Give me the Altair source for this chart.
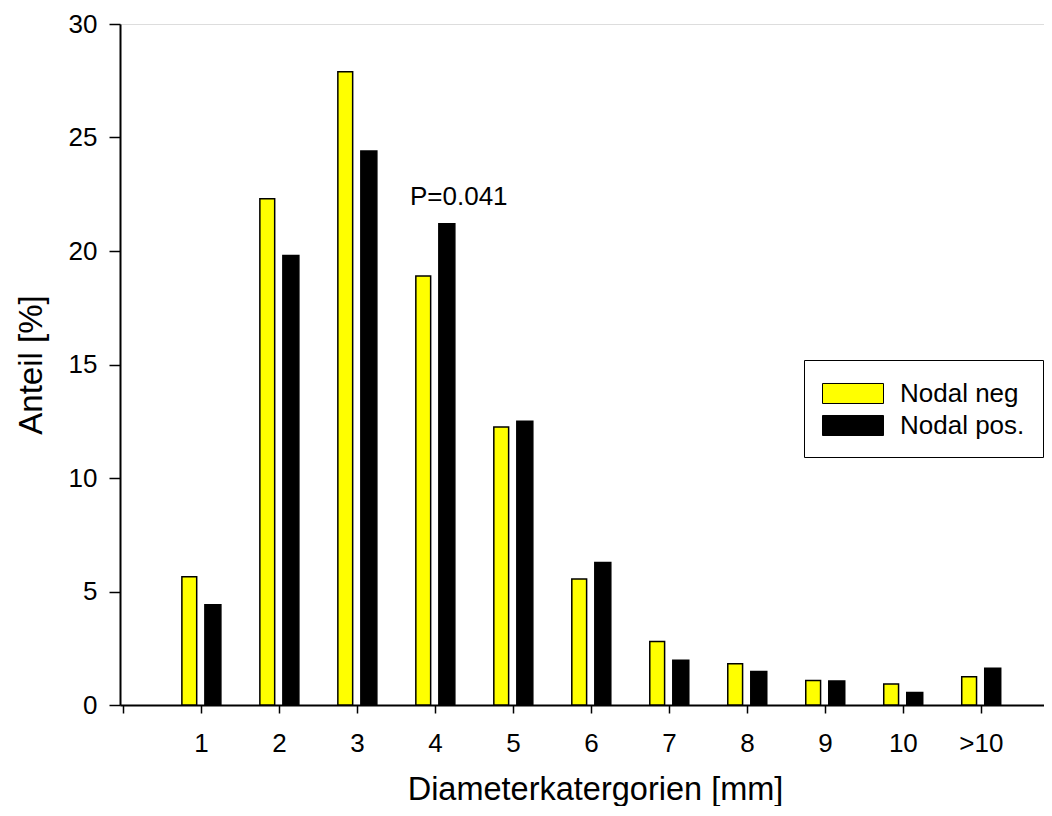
import altair as alt
import pandas as pd

categories = ["1", "2", "3", "4", "5", "6", "7", "8", "9", "10", ">10"]
nodal_neg = [5.65, 22.3, 27.9, 18.9, 12.25, 5.55, 2.8, 1.82, 1.08, 0.92, 1.25]
nodal_pos = [4.42, 19.8, 24.4, 21.2, 12.5, 6.28, 1.97, 1.48, 1.06, 0.55, 1.62]
groups = ["Nodal neg", "Nodal pos."]
colors = ["#FFFF00", "#000000"]
tick_labels = [""] + categories
annotation_text = ["P=0.041"]
annotation_pos = [3.68]
annotation_val = [22.03]

rows = []
for i, c in enumerate(categories):
    rows.append({"cat": c, "idx": i + 1, "group": groups[0], "value": nodal_neg[i]})
    rows.append({"cat": c, "idx": i + 1, "group": groups[1], "value": nodal_pos[i]})
df = pd.DataFrame(rows)
ann = pd.DataFrame({"label": annotation_text, "x": annotation_pos, "y": annotation_val})

FONT = "Liberation Sans"
label_expr = "[" + ",".join("'" + t + "'" for t in tick_labels) + "][datum.value]"

xscale = alt.Scale(domain=[-0.0385, 11.81], nice=False, zero=False)
yscale = alt.Scale(domain=[0, 30], nice=False)

bars = alt.Chart(df).transform_calculate(
    x0="datum.idx + (datum.group == 'Nodal neg' ? -0.245 : 0.05)",
    x1="datum.idx + (datum.group == 'Nodal neg' ? -0.055 : 0.255)",
).mark_bar(stroke="black", strokeWidth=1.5).encode(
    x=alt.X("x0:Q", scale=xscale,
            axis=alt.Axis(values=list(range(12)), labelExpr=label_expr, grid=False,
                          tickSize=8, tickColor="black", tickWidth=1.5,
                          domainColor="black", domainWidth=2,
                          labelFont=FONT, labelFontSize=26, labelColor="black",
                          labelPadding=17, labelFlush=False,
                          title="Diameterkatergorien [mm]", titleFont=FONT,
                          titleFontSize=32.5, titleFontWeight="normal", titleColor="black",
                          titlePadding=17, titleX=475, titleAlign="center")),
    x2="x1:Q",
    y=alt.Y("value:Q", scale=yscale,
            axis=alt.Axis(values=[0, 5, 10, 15, 20, 25, 30], grid=False,
                          tickSize=11, tickColor="black", tickWidth=1.5,
                          domainColor="black", domainWidth=2,
                          labelFont=FONT, labelFontSize=26, labelColor="black",
                          labelPadding=12,
                          title="Anteil [%]", titleFont=FONT, titleFontSize=33,
                          titleFontWeight="normal", titleColor="black", titlePadding=20)),
    y2=alt.datum(0),
    fill=alt.Color("group:N", scale=alt.Scale(domain=groups, range=colors),
                   legend=alt.Legend(
                       title=None, orient="none", legendX=684, legendY=336,
                       symbolType="M-1,-0.667H3.067V0.667H-1Z", symbolSize=900,
                       symbolStrokeColor="black", symbolStrokeWidth=1,
                       symbolOpacity=1,
                       labelFont=FONT, labelFontSize=26, labelColor="black",
                       labelOffset=47, rowPadding=3, padding=18,
                       strokeColor="black", fillColor="white",
                       labelLimit=300)),
)

text = alt.Chart(ann).mark_text(align="left", baseline="alphabetic", font=FONT,
                                fontSize=26, color="black").encode(
    x=alt.X("x:Q", scale=xscale), y=alt.Y("y:Q", scale=yscale), text="label:N")

chart = alt.layer(bars, text).properties(
    width=924, height=681,
    padding={"left": 112, "top": 16, "right": 0, "bottom": 101},
    autosize="none",
).configure_view(stroke=None).configure(background="white")

chart.save("out.html", embed_options={"renderer": "svg", "actions": False})
